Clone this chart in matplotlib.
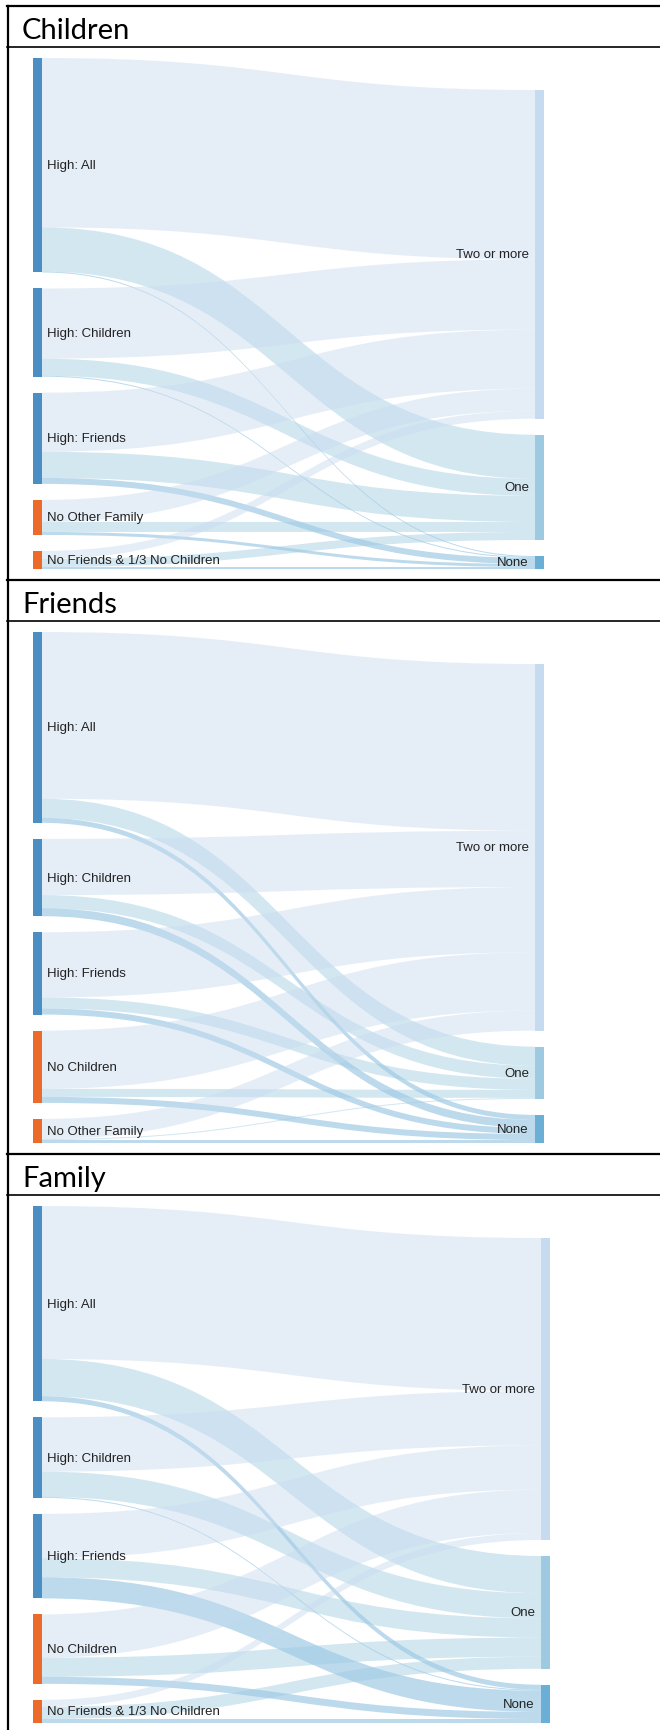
import numpy as np
import matplotlib.pyplot as plt
from matplotlib.path import Path
from matplotlib.patches import PathPatch, Rectangle

# right-hand nodes (same for all three panels)
targets = ['Two or more', 'One', 'None']
target_colors = ['#c6dbef', '#9ecae1', '#6baed6']

# Children panel: flows from each group into Two or more / One / None
children_sources = ['High: All', 'High: Children', 'High: Friends',
                    'No Other Family', 'No Friends & 1/3 No Children']
children_high = [True, True, True, False, False]
children_two = [169, 70, 59, 22, 8]
children_one = [44, 17, 26, 10, 8]
children_none = [1, 1, 6, 3, 2]

# Friends panel
friends_sources = ['High: All', 'High: Children', 'High: Friends',
                   'No Children', 'No Other Family']
friends_high = [True, True, True, False, False]
friends_two = [166, 56, 65, 58, 20]
friends_one = [19, 13, 11, 8, 1]
friends_none = [5, 8, 6, 6, 3]

# Family panel
family_sources = ['High: All', 'High: Children', 'High: Friends',
                  'No Children', 'No Friends & 1/3 No Children']
family_high = [True, True, True, False, False]
family_two = [152, 54, 44, 43, 7]
family_one = [37, 25, 19, 19, 12]
family_none = [5, 1, 21, 7, 4]

panels = [
    ('Children', children_sources, children_high, [children_two, children_one, children_none]),
    ('Friends', friends_sources, friends_high, [friends_two, friends_one, friends_none]),
    ('Family', family_sources, family_high, [family_two, family_one, family_none]),
]

W, H = 660, 1731
SEC_H = 574
NODE_W = 9
PAD = 16
HIGH_COLOR = '#4a8ec4'
LOW_COLOR = '#ec6a2a'
LINK_ALPHA = 0.45


def draw_sankey(ax, sources, high, flows, top, bottom, x_left, x_right):
    F = np.array(flows, dtype=float).T          # rows = sources, cols = targets
    src_tot = F.sum(axis=1)
    tgt_tot = F.sum(axis=0)
    k = (bottom - top - (len(sources) - 1) * PAD) / src_tot.sum()

    # left column stacked from the top
    src_y = top + np.concatenate([[0], np.cumsum(src_tot * k + PAD)[:-1]])
    # right column stacked up from the bottom
    tgt_h = tgt_tot * k
    tgt_y = bottom - np.cumsum((tgt_h + PAD)[::-1])[::-1] + PAD

    x0 = x_left + NODE_W
    x1 = x_right
    xm = (x0 + x1) / 2

    # offsets: at source ordered by target, at target ordered by source
    src_off = src_y.copy()
    tgt_off = tgt_y.copy()
    src_start = np.zeros_like(F)
    tgt_start = np.zeros_like(F)
    for i in range(F.shape[0]):
        for j in range(F.shape[1]):
            src_start[i, j] = src_off[i]
            src_off[i] += F[i, j] * k
    for j in range(F.shape[1]):
        for i in range(F.shape[0]):
            tgt_start[i, j] = tgt_off[j]
            tgt_off[j] += F[i, j] * k

    for i in range(F.shape[0]):
        for j in range(F.shape[1]):
            h = F[i, j] * k
            if h <= 0:
                continue
            sy, ty = src_start[i, j], tgt_start[i, j]
            verts = [(x0, sy), (xm, sy), (xm, ty), (x1, ty),
                     (x1, ty + h), (xm, ty + h), (xm, sy + h), (x0, sy + h),
                     (x0, sy)]
            codes = [Path.MOVETO, Path.CURVE4, Path.CURVE4, Path.CURVE4,
                     Path.LINETO, Path.CURVE4, Path.CURVE4, Path.CURVE4,
                     Path.CLOSEPOLY]
            ax.add_patch(PathPatch(Path(verts, codes), facecolor=target_colors[j],
                                   alpha=LINK_ALPHA, lw=0))

    for i, name in enumerate(sources):
        h = src_tot[i] * k
        ax.add_patch(Rectangle((x_left, src_y[i]), NODE_W, h, lw=0,
                               facecolor=HIGH_COLOR if high[i] else LOW_COLOR))
        ax.text(x_left + NODE_W + 5, src_y[i] + h / 2, name, ha='left', va='center',
                fontsize=9.5, family='Liberation Sans', color='#222222')
    for j, name in enumerate(targets):
        ax.add_patch(Rectangle((x_right, tgt_y[j]), NODE_W, tgt_h[j], lw=0,
                               facecolor=target_colors[j]))
        ax.text(x_right - 6, tgt_y[j] + tgt_h[j] / 2, name, ha='right', va='center',
                fontsize=9.5, family='Liberation Sans', color='#222222')


fig = plt.figure(figsize=(W / 100, H / 100), dpi=100)
ax = fig.add_axes([0, 0, 1, 1])
ax.set_xlim(0, W)
ax.set_ylim(H, 0)
ax.axis('off')

# table frame
ax.plot([8, 8], [7, H], color='black', lw=1.6)
for n, (title, sources, high, flows) in enumerate(panels):
    sec_top = 7 + n * SEC_H
    ax.plot([7, W], [sec_top, sec_top], color='black', lw=1.6)
    ax.plot([7, W], [sec_top + 41, sec_top + 41], color='black', lw=1.2)
    ax.text(22, sec_top + 32, title, ha='left', va='baseline',
            fontsize=21, family='Lato', color='black')
    # the last panel was exported a touch larger
    if title == 'Family':
        draw_sankey(ax, sources, high, flows, sec_top + 52, sec_top + 569, 33, 541)
    else:
        draw_sankey(ax, sources, high, flows, sec_top + 52, sec_top + 563, 33, 535)

fig.savefig('out.png', dpi=100)
